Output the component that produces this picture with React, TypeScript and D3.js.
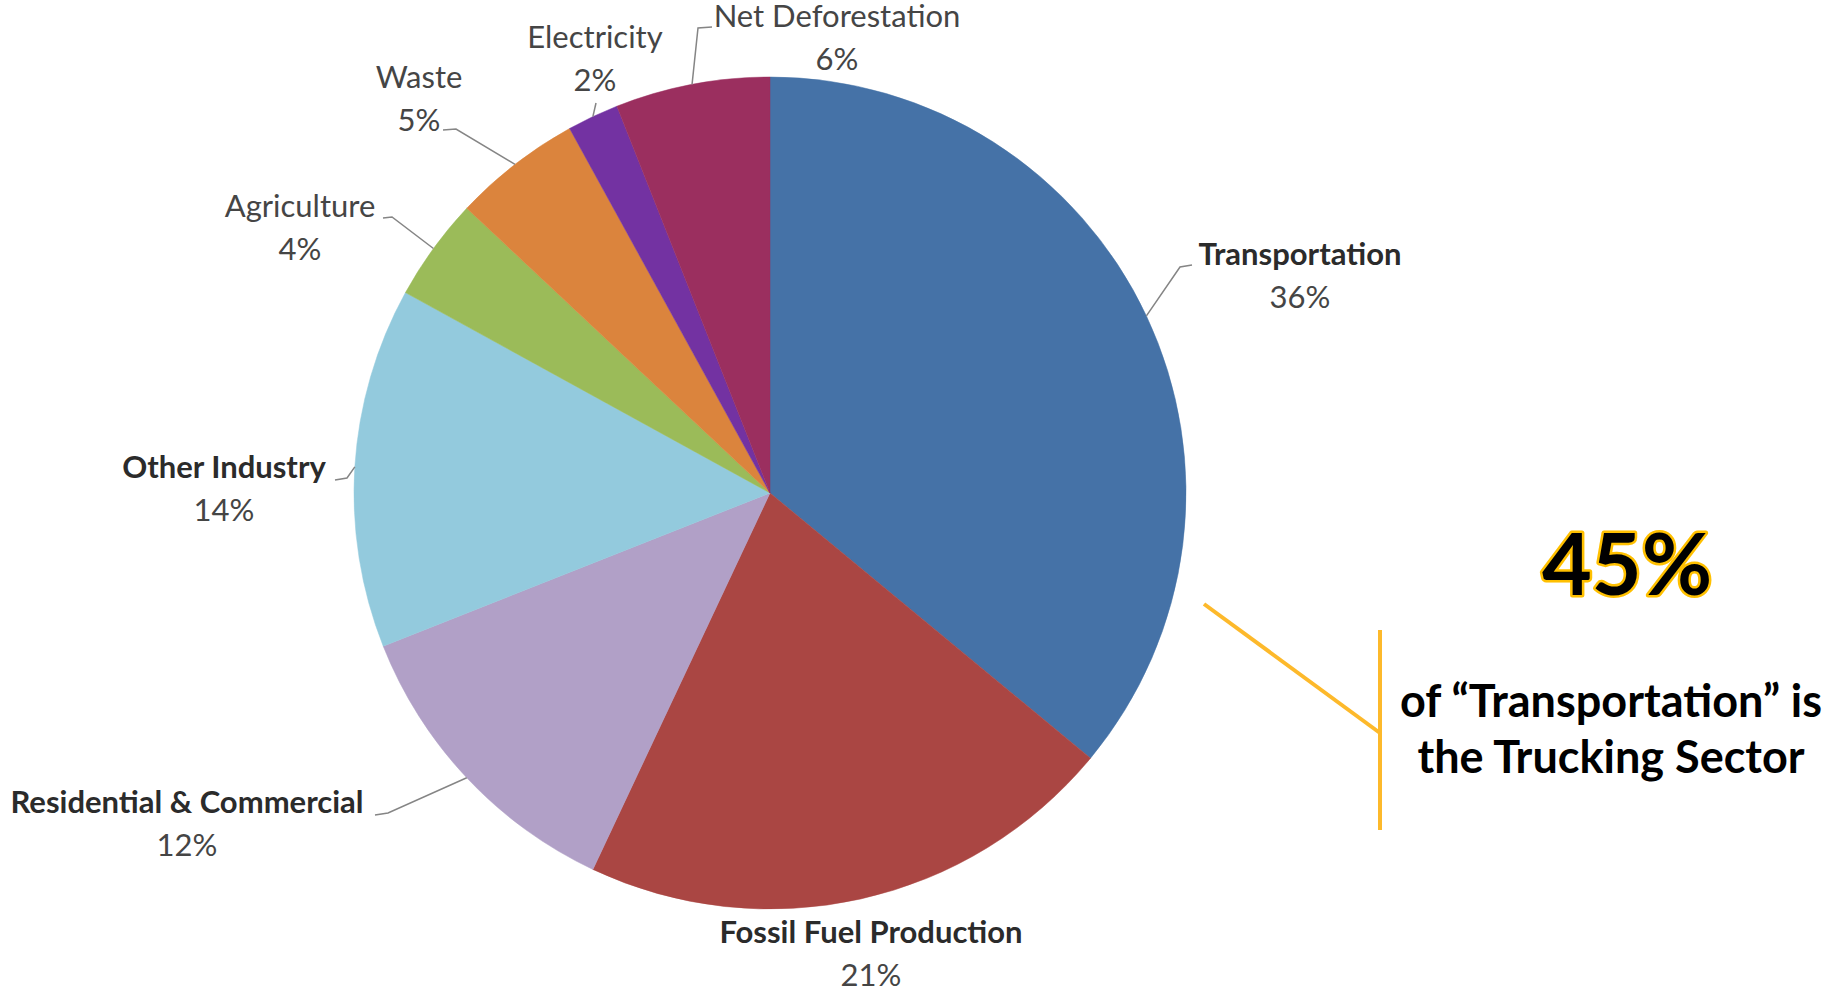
import * as d3 from "d3";

// emission shares by sector, read clockwise from 12 o'clock
const sectors = [
    "Transportation",
    "Fossil Fuel Production",
    "Residential & Commercial",
    "Other Industry",
    "Agriculture",
    "Waste",
    "Electricity",
    "Net Deforestation",
];
const shares = [36, 21, 12, 14, 4, 5, 2, 6];
const sliceColors = ["#4572A7", "#AA4643", "#B1A0C7", "#93CADD", "#9BBB59", "#DB843D", "#7332A2", "#9B2F5F"];
const boldLabels = [true, true, true, true, false, false, false, false];

const calloutValue = "45%";
const calloutLines = ["of \u201CTransportation\u201D is", "the Trucking Sector"];

// layout
const width = 1829;
const height = 990;
const cx = 770;
const cy = 493;
const radius = 416;
const lineGap = 43;
const font = "Lato, 'Noto Sans', sans-serif";

// label anchors: [center x, baseline of name]
const labelPos: [number, number][] = [
    [1300, 265],
    [871, 943],
    [187, 813],
    [224, 478],
    [300, 217],
    [419, 88],
    [595, 48],
    [837, 27],
];
// leader line points nearest the label (pie end is computed from the slice)
const leaderPts: [number, number][][] = [
    [[1192, 265], [1180, 267]],
    [],
    [[375, 815], [388, 813]],
    [[335, 480], [347, 478]],
    [[383, 218], [392, 217]],
    [[443, 130], [456, 129]],
    [[596, 103]],
    [[712, 27], [698, 28]],
];

const App = () => {
    const pie = d3.pie<number>().sort(null).value(d => d);
    const arcs = pie(shares);
    const arc = d3.arc<d3.PieArcDatum<number>>().innerRadius(0).outerRadius(radius);
    const line = d3.line();

    return (
        <div style={{ position: "fixed", left: 0, top: 0 }}>
            <svg width={width} height={height} style={{ display: "block", background: "#fff" }}>
                <g transform={`translate(${cx},${cy})`}>
                    {arcs.map((a, i) => (
                        <path key={i} d={arc(a) ?? ""} fill={sliceColors[i]} stroke={sliceColors[i]} strokeWidth={0.5} />
                    ))}
                </g>
                {arcs.map((a, i) => {
                    const pts = leaderPts[i];
                    if (!pts.length) return null;
                    const mid = (a.startAngle + a.endAngle) / 2;
                    const edge: [number, number] = [cx + radius * Math.sin(mid), cy - radius * Math.cos(mid)];
                    return <path key={i} d={line([...pts, edge]) ?? ""} fill="none" stroke="#858585" strokeWidth={1.5} />;
                })}
                {sectors.map((s, i) => (
                    <g key={s} fontFamily={font} fontSize={31} textAnchor="middle">
                        <text x={labelPos[i][0]} y={labelPos[i][1]} fontWeight={boldLabels[i] ? 700 : 400}
                              fill={boldLabels[i] ? "#2b2b2b" : "#454545"}>{s}</text>
                        <text x={labelPos[i][0]} y={labelPos[i][1] + lineGap} fill="#454545">{shares[i]}%</text>
                    </g>
                ))}
                <g fontFamily={font} fontWeight={700} textAnchor="middle">
                    <text x={1627} y={595} fontSize={86} fill="#000" stroke="#FFC000" strokeWidth={5}
                          paintOrder="stroke" strokeLinejoin="round">{calloutValue}</text>
                    {calloutLines.map((t, i) => (
                        <text key={i} x={1611} y={717 + i * 56} fontSize={45} fill="#000">{t}</text>
                    ))}
                </g>
                <path d={line([[1204, 604], [1380, 733]]) ?? ""} stroke="#FDB92B" strokeWidth={4} fill="none" />
                <path d={line([[1380, 630], [1380, 830]]) ?? ""} stroke="#FDB92B" strokeWidth={4} fill="none" />
            </svg>
        </div>
    );
};

export default App;
